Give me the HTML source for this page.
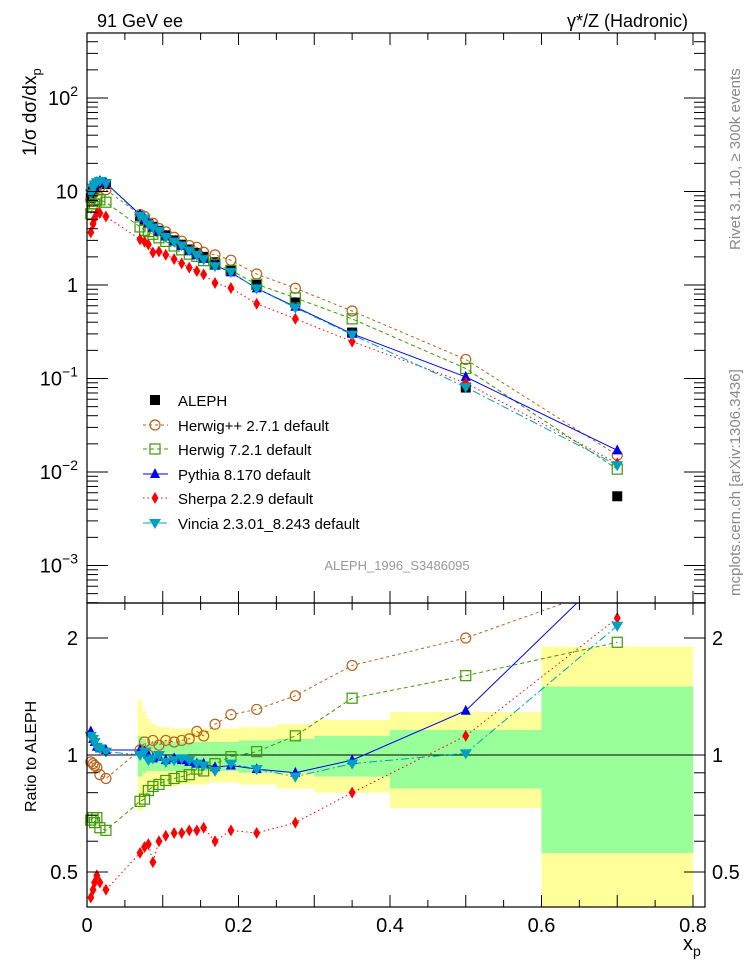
<!DOCTYPE html>
<html><head><meta charset="utf-8">
<style>
html,body{margin:0;padding:0;background:#fff;}
svg{display:block;font-family:"Liberation Sans",sans-serif;}
</style></head>
<body>
<svg id="chart" width="746" height="972" viewBox="0 0 746 972" xmlns="http://www.w3.org/2000/svg">
<defs>
<clipPath id="ct"><rect x="87" y="33" width="618" height="570"/></clipPath>
<clipPath id="cb"><rect x="87" y="603" width="618" height="304"/></clipPath>
</defs>
<g id="bands" clip-path="url(#cb)"></g>
<g id="lines"></g>
<g id="marks"></g>
<g id="axes"></g>
<text x="97" y="27" font-size="18">91 GeV ee</text>
<text x="688" y="27" font-size="18" text-anchor="end">γ*/Z (Hadronic)</text>
<text transform="translate(740,250) rotate(-90)" font-size="15" fill="#888">Rivet 3.1.10, ≥ 300k events</text>
<text transform="translate(740,596) rotate(-90)" font-size="15" fill="#888">mcplots.cern.ch [arXiv:1306.3436]</text>
<text transform="translate(36,156) rotate(-90)" font-size="19">1/σ dσ/dx<tspan font-size="13" dy="5">p</tspan></text>
<text transform="translate(36,812) rotate(-90)" font-size="16">Ratio to ALEPH</text>
<text x="397" y="570" font-size="13" fill="#999" text-anchor="middle">ALEPH_1996_S3486095</text>
<text x="683" y="950" font-size="20">x<tspan font-size="14" dy="6">p</tspan></text>
<g id="legend"></g>
</svg>
<script>
const lowX=[0.005,0.008,0.010,0.013,0.017,0.025];
const mainX=[0.07,0.076,0.081,0.087,0.095,0.104,0.115,0.125,0.135,0.145,0.154,0.169,0.19,0.224,0.275,0.35,0.5,0.7];
const alephLow=[8.5,10,11,12,12.5,12];
const alephMain=[5.5,5.0,4.6,4.2,3.8,3.4,3.0,2.7,2.4,2.2,2.0,1.75,1.45,1.0,0.65,0.31,0.08,0.0055];
const herwigppLow=[0.96,0.95,0.94,0.93,0.89,0.87];
const herwigppMain=[1.03,1.08,1.0,1.09,1.06,1.09,1.08,1.09,1.1,1.15,1.12,1.2,1.27,1.31,1.42,1.7,2.0,2.75];
const herwig7Low=[0.68,0.69,0.67,0.69,0.65,0.64];
const herwig7Main=[0.76,0.77,0.81,0.83,0.84,0.86,0.87,0.88,0.89,0.92,0.91,0.95,0.99,1.02,1.12,1.4,1.6,1.95];
const pythiaLow=[1.15,1.1,1.08,1.05,1.04,1.03];
const pythiaMain=[1.03,1.02,1.0,0.98,0.99,0.97,0.98,0.97,0.96,0.95,0.95,0.93,0.94,0.92,0.9,0.97,1.3,3.1];
const sherpaLow=[0.43,0.45,0.47,0.49,0.47,0.45];
const sherpaMain=[0.56,0.58,0.59,0.53,0.6,0.62,0.63,0.63,0.64,0.64,0.65,0.6,0.64,0.63,0.67,0.8,1.12,2.25];
const vinciaLow=[1.12,1.1,1.08,1.05,1.04,1.02];
const vinciaMain=[1.0,1.02,0.97,0.98,1.0,0.96,0.97,0.98,0.97,0.95,0.94,0.91,0.95,0.92,0.88,0.95,1.01,2.15];
const binEdges=[0.067,0.073,0.078,0.084,0.091,0.1,0.11,0.12,0.13,0.14,0.15,0.16,0.18,0.2,0.25,0.3,0.4,0.6,0.8];
const yellowHi=[1.38,1.3,1.24,1.2,1.18,1.18,1.17,1.17,1.17,1.17,1.17,1.17,1.17,1.18,1.2,1.23,1.29,1.9];
const yellowLo=[0.72,0.77,0.8,0.82,0.83,0.83,0.83,0.84,0.84,0.84,0.84,0.85,0.85,0.84,0.82,0.8,0.73,0.35];
const greenHi=[1.12,1.1,1.08,1.08,1.08,1.08,1.08,1.08,1.08,1.08,1.08,1.08,1.08,1.09,1.1,1.12,1.16,1.5];
const greenLo=[0.88,0.9,0.91,0.91,0.91,0.91,0.91,0.91,0.91,0.91,0.91,0.91,0.91,0.9,0.9,0.88,0.82,0.56];
const xTicks=["0","0.2","0.4","0.6","0.8"];
const yTicks=["10⁻³","10⁻²","10⁻¹","1","10","10²"];
const ratioTicks=["0.5","1","2"];

const NS="http://www.w3.org/2000/svg";
const L=87,R=705,T=33,MID=603,B=907;
const X=x=>L+x*757.5;
const Y=v=>285-Math.log10(v)*93.5;
const RY=r=>755-Math.log10(r)*388.7;
function mk(tag,at,parent){const e=document.createElementNS(NS,tag);for(const k in at)e.setAttribute(k,at[k]);parent.appendChild(e);return e;}
const gB=document.getElementById('bands'),gL=document.getElementById('lines'),gM=document.getElementById('marks'),gA=document.getElementById('axes'),gLeg=document.getElementById('legend');

for(let i=0;i<binEdges.length-1;i++){
  const x0=X(binEdges[i]),x1=X(binEdges[i+1]);
  let r=mk('rect',{x:x0,y:RY(yellowHi[i]),width:x1-x0,height:RY(yellowLo[i])-RY(yellowHi[i]),fill:'#ffff99'},gB);
  
  
  let g=mk('rect',{x:x0,y:RY(greenHi[i]),width:x1-x0,height:RY(greenLo[i])-RY(greenHi[i]),fill:'#99ff99'},gB);
  
  
}
let one=mk('line',{x1:L,x2:R,y1:RY(1),y2:RY(1),stroke:'#000','stroke-width':1},gB);



const allX=lowX.concat(mainX);
const aleph=alephLow.concat(alephMain);
const series=[
 {name:'herwigpp',label:'Herwig++ 2.7.1 default',r:herwigppLow.concat(herwigppMain),c:'#b8621b',dash:'3,3',m:'circle'},
 {name:'herwig7',label:'Herwig 7.2.1 default',r:herwig7Low.concat(herwig7Main),c:'#3d9a00',dash:'4,3',m:'square'},
 {name:'pythia',label:'Pythia 8.170 default',r:pythiaLow.concat(pythiaMain),c:'#0000ee',dash:'',m:'tri'},
 {name:'sherpa',label:'Sherpa 2.2.9 default',r:sherpaLow.concat(sherpaMain),c:'#ff0000',dash:'1.5,3',m:'diamond'},
 {name:'vincia',label:'Vincia 2.3.01_8.243 default',r:vinciaLow.concat(vinciaMain),c:'#00a0c0',dash:'8,3,2,3',m:'itri'}
];
function marker(type,x,y,c,parent){
  let e;
  if(type==='circle')e=mk('circle',{cx:x,cy:y,r:5,fill:'none',stroke:c,'stroke-width':1.2},parent);
  else if(type==='square')e=mk('rect',{x:x-5,y:y-5,width:10,height:10,fill:'none',stroke:c,'stroke-width':1.2},parent);
  else if(type==='fsquare')e=mk('rect',{x:x-5,y:y-5,width:10,height:10,fill:c},parent);
  else if(type==='tri')e=mk('polygon',{points:`${x},${y-6} ${x-5},${y+4} ${x+5},${y+4}`,fill:c},parent);
  else if(type==='itri')e=mk('polygon',{points:`${x},${y+6} ${x-6},${y-4} ${x+6},${y-4}`,fill:c},parent);
  else e=mk('polygon',{points:`${x},${y-6} ${x-3.5},${y} ${x},${y+6} ${x+3.5},${y}`,fill:c},parent);
  return e;
}
allX.forEach((x,i)=>{
  const e=marker('fsquare',X(x),Y(aleph[i]),'#000',gM);
  
  
});
series.forEach(s=>{
  const top=allX.map((x,i)=>X(x)+','+Y(aleph[i]*s.r[i])).join(' ');
  const bot=allX.map((x,i)=>X(x)+','+RY(s.r[i])).join(' ');
  const l1=mk('polyline',{points:top,fill:'none',stroke:s.c,'stroke-width':1,'stroke-dasharray':s.dash,'clip-path':'url(#ct)'},gL);
  
  
  const l2=mk('polyline',{points:bot,fill:'none',stroke:s.c,'stroke-width':1,'stroke-dasharray':s.dash,'clip-path':'url(#cb)'},gL);
  
  
  allX.forEach((x,i)=>{
    const e=marker(s.m,X(x),Y(aleph[i]*s.r[i]),s.c,gM);
    
    
    const ry=RY(s.r[i]);
    if(ry>MID+3&&ry<B-3){
      const f=marker(s.m,X(x),ry,s.c,gM);
      
      
    }
  });
});
const legY=[400,425,449,474,498,523];
const legLab=['ALEPH'].concat(series.map(s=>s.label));
legLab.forEach((t,i)=>{
  const y=legY[i];
  if(i>0){const s=series[i-1];
    mk('line',{x1:143,x2:168,y1:y,y2:y,stroke:s.c,'stroke-dasharray':s.dash},gLeg);
    marker(s.m,155,y,s.c,gLeg);
  } else marker('fsquare',155,y,'#000',gLeg);
  const tx=mk('text',{x:178,y:y+6,'font-size':15},gLeg);tx.textContent=t;
  
  
});
mk('rect',{x:L,y:T,width:R-L,height:MID-T,fill:'none',stroke:'#000','stroke-width':1.2},gA);
mk('rect',{x:L,y:MID,width:R-L,height:B-MID,fill:'none',stroke:'#000','stroke-width':1.2},gA);
for(let k=0;k<=16;k++){
  const x=X(k*0.05),len=(k%2===0)?12:7;
  [[T,1],[MID,-1],[MID,1],[B,-1]].forEach(([y0,d])=>mk('line',{x1:x,x2:x,y1:y0,y2:y0+d*len,stroke:'#000'},gA));
}
xTicks.forEach((t,i)=>{const e=mk('text',{x:X(i*0.2),y:932,'font-size':20,'text-anchor':'middle'},gA);e.textContent=t;
  });
for(let d=-4;d<=2;d++){
  for(let m=1;m<10;m++){
    const v=m*Math.pow(10,d),y=Y(v);
    if(y<T||y>MID)continue;
    const len=m===1?21:11;
    mk('line',{x1:L,x2:L+len,y1:y,y2:y,stroke:'#000'},gA);
    mk('line',{x1:R,x2:R-len,y1:y,y2:y,stroke:'#000'},gA);
  }
}
yTicks.forEach((t,i)=>{const d=i-3;const y=Y(Math.pow(10,d));
  const e=mk('text',{x:78,y:y+7,'font-size':20,'text-anchor':'end'},gA);
  if(d===0)e.textContent='1';else if(d===1)e.textContent='10';
  else{e.textContent='10';const sp=mk('tspan',{dy:-9,'font-size':14},e);sp.textContent=String(d).replace('-','−');}
  });
[0.5,0.6,0.7,0.8,0.9,1,2].forEach(v=>{const y=RY(v);const len=(v===0.5||v===1||v===2)?21:11;
  mk('line',{x1:L,x2:L+len,y1:y,y2:y,stroke:'#000'},gA);mk('line',{x1:R,x2:R-len,y1:y,y2:y,stroke:'#000'},gA);});
ratioTicks.forEach(t=>{const y=RY(parseFloat(t));
  const a=mk('text',{x:78,y:y+7,'font-size':20,'text-anchor':'end'},gA);a.textContent=t;
  
  const b=mk('text',{x:712,y:y+7,'font-size':20},gA);b.textContent=t;
  });
</script>
</body></html>
